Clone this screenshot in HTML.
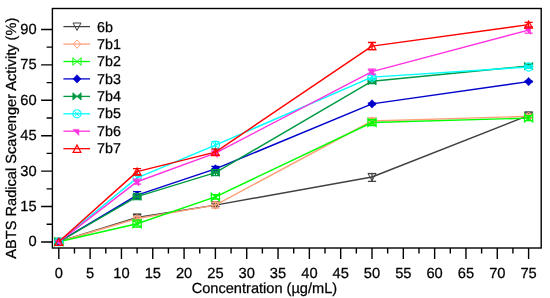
<!DOCTYPE html>
<html><head><meta charset="utf-8"><title>chart</title>
<style>
html,body{margin:0;padding:0;background:#fff;}
body{width:550px;height:298px;overflow:hidden;font-family:"Liberation Sans",sans-serif;}
#w{will-change:transform;width:550px;height:298px;}
svg{display:block;}
text{font-family:"Liberation Sans",sans-serif;font-size:14.7px;fill:#000;stroke:#000;stroke-width:0.25px;text-rendering:geometricPrecision;}
</style></head><body>
<div id="w"><svg width="550" height="298" viewBox="0 0 550 298">
<rect x="0" y="0" width="550" height="298" fill="#fff"/>

<g><polyline points="58.8,241.8 137.1,217.5 215.4,205.1 372.0,177.0 528.6,115.4" fill="none" stroke="#404040" stroke-width="1.45" stroke-linejoin="round"/>
<path d="M54.8,238.2 L62.8,238.2 L58.8,245.6 Z" fill="none" stroke="#404040" stroke-width="1"/>
<path d="M137.1,214.7 V220.3 M133.0,214.7 H141.2 M133.0,220.3 H141.2" stroke="#404040" stroke-width="1.3" fill="none"/>
<path d="M133.1,213.9 L141.1,213.9 L137.1,221.3 Z" fill="none" stroke="#404040" stroke-width="1"/>
<path d="M215.4,203.6 V206.6 M211.3,203.6 H219.5 M211.3,206.6 H219.5" stroke="#404040" stroke-width="1.3" fill="none"/>
<path d="M211.4,201.5 L219.4,201.5 L215.4,208.9 Z" fill="none" stroke="#404040" stroke-width="1"/>
<path d="M372.0,173.6 V181.3 M367.9,173.6 H376.1 M367.9,181.3 H376.1" stroke="#404040" stroke-width="1.3" fill="none"/>
<path d="M368.0,173.4 L376.0,173.4 L372.0,180.8 Z" fill="none" stroke="#404040" stroke-width="1"/>
<path d="M528.6,112.9 V117.9 M524.5,112.9 H532.7 M524.5,117.9 H532.7" stroke="#404040" stroke-width="1.3" fill="none"/>
<path d="M524.6,111.8 L532.6,111.8 L528.6,119.2 Z" fill="none" stroke="#404040" stroke-width="1"/>
</g>
<g><polyline points="58.8,241.8 137.1,218.5 215.4,205.1 372.0,121.0 528.6,116.3" fill="none" stroke="#FFA07A" stroke-width="1.45" stroke-linejoin="round"/>
<path d="M55.1,241.8 L58.8,237.6 L62.5,241.8 L58.8,246.0 Z" fill="none" stroke="#FFA07A" stroke-width="1"/>
<path d="M137.1,216.5 V220.5 M133.0,216.5 H141.2 M133.0,220.5 H141.2" stroke="#FFA07A" stroke-width="1.3" fill="none"/>
<path d="M133.4,218.5 L137.1,214.3 L140.8,218.5 L137.1,222.7 Z" fill="none" stroke="#FFA07A" stroke-width="1"/>
<path d="M215.4,202.1 V208.1 M211.3,202.1 H219.5 M211.3,208.1 H219.5" stroke="#FFA07A" stroke-width="1.3" fill="none"/>
<path d="M211.7,205.1 L215.4,200.9 L219.1,205.1 L215.4,209.3 Z" fill="none" stroke="#FFA07A" stroke-width="1"/>
<path d="M372.0,118.0 V124.0 M367.9,118.0 H376.1 M367.9,124.0 H376.1" stroke="#FFA07A" stroke-width="1.3" fill="none"/>
<path d="M368.3,121.0 L372.0,116.8 L375.7,121.0 L372.0,125.2 Z" fill="none" stroke="#FFA07A" stroke-width="1"/>
<path d="M528.6,114.3 V118.3 M524.5,114.3 H532.7 M524.5,118.3 H532.7" stroke="#FFA07A" stroke-width="1.3" fill="none"/>
<path d="M524.9,116.3 L528.6,112.1 L532.3,116.3 L528.6,120.5 Z" fill="none" stroke="#FFA07A" stroke-width="1"/>
</g>
<g><polyline points="58.8,241.8 137.1,223.7 215.4,196.9 372.0,122.5 528.6,118.1" fill="none" stroke="#00FF00" stroke-width="1.45" stroke-linejoin="round"/>
<path d="M54.7,238.0 L58.8,241.8 L54.7,245.6 Z M62.9,238.0 L58.8,241.8 L62.9,245.6 Z" fill="none" stroke="#00FF00" stroke-width="1.25"/>
<path d="M137.1,220.2 V227.2 M133.0,220.2 H141.2 M133.0,227.2 H141.2" stroke="#00FF00" stroke-width="1.3" fill="none"/>
<path d="M133.0,219.9 L137.1,223.7 L133.0,227.5 Z M141.2,219.9 L137.1,223.7 L141.2,227.5 Z" fill="none" stroke="#00FF00" stroke-width="1.25"/>
<path d="M215.4,194.7 V199.1 M211.3,194.7 H219.5 M211.3,199.1 H219.5" stroke="#00FF00" stroke-width="1.3" fill="none"/>
<path d="M211.3,193.1 L215.4,196.9 L211.3,200.7 Z M219.5,193.1 L215.4,196.9 L219.5,200.7 Z" fill="none" stroke="#00FF00" stroke-width="1.25"/>
<path d="M372.0,119.5 V125.5 M367.9,119.5 H376.1 M367.9,125.5 H376.1" stroke="#00FF00" stroke-width="1.3" fill="none"/>
<path d="M367.9,118.7 L372.0,122.5 L367.9,126.3 Z M376.1,118.7 L372.0,122.5 L376.1,126.3 Z" fill="none" stroke="#00FF00" stroke-width="1.25"/>
<path d="M528.6,115.6 V120.6 M524.5,115.6 H532.7 M524.5,120.6 H532.7" stroke="#00FF00" stroke-width="1.3" fill="none"/>
<path d="M524.5,114.3 L528.6,118.1 L524.5,121.9 Z M532.7,114.3 L528.6,118.1 L532.7,121.9 Z" fill="none" stroke="#00FF00" stroke-width="1.25"/>
</g>
<g><polyline points="58.8,241.8 137.1,195.1 215.4,168.9 372.0,103.9 528.6,81.6" fill="none" stroke="#0000CD" stroke-width="1.45" stroke-linejoin="round"/>
<path d="M54.8,241.8 L58.8,237.6 L62.8,241.8 L58.8,246.0 Z" fill="#0000CD" stroke="#0000CD" stroke-width="0.6"/>
<path d="M137.1,191.6 V198.6 M133.0,191.6 H141.2 M133.0,198.6 H141.2" stroke="#0000CD" stroke-width="1.3" fill="none"/>
<path d="M133.1,195.1 L137.1,190.9 L141.1,195.1 L137.1,199.3 Z" fill="#0000CD" stroke="#0000CD" stroke-width="0.6"/>
<path d="M215.4,166.4 V171.4 M211.3,166.4 H219.5 M211.3,171.4 H219.5" stroke="#0000CD" stroke-width="1.3" fill="none"/>
<path d="M211.4,168.9 L215.4,164.7 L219.4,168.9 L215.4,173.1 Z" fill="#0000CD" stroke="#0000CD" stroke-width="0.6"/>
<path d="M372.0,103.1 V104.7 M367.9,103.1 H376.1 M367.9,104.7 H376.1" stroke="#0000CD" stroke-width="1.3" fill="none"/>
<path d="M368.0,103.9 L372.0,99.7 L376.0,103.9 L372.0,108.1 Z" fill="#0000CD" stroke="#0000CD" stroke-width="0.6"/>
<path d="M528.6,81.1 V82.1 M524.5,81.1 H532.7 M524.5,82.1 H532.7" stroke="#0000CD" stroke-width="1.3" fill="none"/>
<path d="M524.6,81.6 L528.6,77.4 L532.6,81.6 L528.6,85.8 Z" fill="#0000CD" stroke="#0000CD" stroke-width="0.6"/>
</g>
<g><polyline points="58.8,241.8 137.1,196.6 215.4,172.6 372.0,81.2 528.6,66.0" fill="none" stroke="#009944" stroke-width="1.45" stroke-linejoin="round"/>
<path d="M54.7,238.1 L58.8,241.8 L54.7,245.5 Z M62.9,238.1 L58.8,241.8 L62.9,245.5 Z" fill="#009944" stroke="#009944" stroke-width="0.8"/>
<path d="M137.1,193.6 V199.6 M133.0,193.6 H141.2 M133.0,199.6 H141.2" stroke="#009944" stroke-width="1.3" fill="none"/>
<path d="M133.0,192.9 L137.1,196.6 L133.0,200.3 Z M141.2,192.9 L137.1,196.6 L141.2,200.3 Z" fill="#009944" stroke="#009944" stroke-width="0.8"/>
<path d="M215.4,169.6 V175.6 M211.3,169.6 H219.5 M211.3,175.6 H219.5" stroke="#009944" stroke-width="1.3" fill="none"/>
<path d="M211.3,168.9 L215.4,172.6 L211.3,176.3 Z M219.5,168.9 L215.4,172.6 L219.5,176.3 Z" fill="#009944" stroke="#009944" stroke-width="0.8"/>
<path d="M372.0,78.7 V83.7 M367.9,78.7 H376.1 M367.9,83.7 H376.1" stroke="#009944" stroke-width="1.3" fill="none"/>
<path d="M367.9,77.5 L372.0,81.2 L367.9,84.9 Z M376.1,77.5 L372.0,81.2 L376.1,84.9 Z" fill="#009944" stroke="#009944" stroke-width="0.8"/>
<path d="M528.6,64.0 V68.0 M524.5,64.0 H532.7 M524.5,68.0 H532.7" stroke="#009944" stroke-width="1.3" fill="none"/>
<path d="M524.5,62.3 L528.6,66.0 L524.5,69.7 Z M532.7,62.3 L528.6,66.0 L532.7,69.7 Z" fill="#009944" stroke="#009944" stroke-width="0.8"/>
</g>
<g><polyline points="58.8,241.8 137.1,177.9 215.4,145.1 372.0,77.1 528.6,67.0" fill="none" stroke="#00FFFF" stroke-width="1.45" stroke-linejoin="round"/>
<circle cx="58.8" cy="241.8" r="4.1" fill="none" stroke="#00FFFF" stroke-width="1.15"/><path d="M56.3,239.3 L61.3,244.3 M56.3,244.3 L61.3,239.3" fill="none" stroke="#00FFFF" stroke-width="1"/>
<path d="M137.1,175.4 V180.4 M133.0,175.4 H141.2 M133.0,180.4 H141.2" stroke="#00FFFF" stroke-width="1.3" fill="none"/>
<circle cx="137.1" cy="177.9" r="4.1" fill="none" stroke="#00FFFF" stroke-width="1.15"/><path d="M134.6,175.4 L139.6,180.4 M134.6,180.4 L139.6,175.4" fill="none" stroke="#00FFFF" stroke-width="1"/>
<path d="M215.4,141.6 V148.6 M211.3,141.6 H219.5 M211.3,148.6 H219.5" stroke="#00FFFF" stroke-width="1.3" fill="none"/>
<circle cx="215.4" cy="145.1" r="4.1" fill="none" stroke="#00FFFF" stroke-width="1.15"/><path d="M212.9,142.6 L217.9,147.6 M212.9,147.6 L217.9,142.6" fill="none" stroke="#00FFFF" stroke-width="1"/>
<path d="M372.0,75.1 V79.1 M367.9,75.1 H376.1 M367.9,79.1 H376.1" stroke="#00FFFF" stroke-width="1.3" fill="none"/>
<circle cx="372.0" cy="77.1" r="4.1" fill="none" stroke="#00FFFF" stroke-width="1.15"/><path d="M369.5,74.6 L374.5,79.6 M369.5,79.6 L374.5,74.6" fill="none" stroke="#00FFFF" stroke-width="1"/>
<path d="M528.6,66.0 V68.0 M524.5,66.0 H532.7 M524.5,68.0 H532.7" stroke="#00FFFF" stroke-width="1.3" fill="none"/>
<circle cx="528.6" cy="67.0" r="4.1" fill="none" stroke="#00FFFF" stroke-width="1.15"/><path d="M526.1,64.5 L531.1,69.5 M526.1,69.5 L531.1,64.5" fill="none" stroke="#00FFFF" stroke-width="1"/>
</g>
<g><polyline points="58.8,241.8 137.1,181.7 215.4,153.1 372.0,71.6 528.6,30.1" fill="none" stroke="#FF33E0" stroke-width="1.45" stroke-linejoin="round"/>
<path d="M54.7,240.0 L60.7,240.0 L60.7,246.2 Z" fill="#FF33E0" stroke="#FF33E0" stroke-width="0.5"/>
<path d="M137.1,179.2 V184.2 M133.0,179.2 H141.2 M133.0,184.2 H141.2" stroke="#FF33E0" stroke-width="1.3" fill="none"/>
<path d="M133.0,179.9 L139.0,179.9 L139.0,186.1 Z" fill="#FF33E0" stroke="#FF33E0" stroke-width="0.5"/>
<path d="M215.4,151.1 V155.1 M211.3,151.1 H219.5 M211.3,155.1 H219.5" stroke="#FF33E0" stroke-width="1.3" fill="none"/>
<path d="M211.3,151.3 L217.3,151.3 L217.3,157.5 Z" fill="#FF33E0" stroke="#FF33E0" stroke-width="0.5"/>
<path d="M372.0,69.1 V74.1 M367.9,69.1 H376.1 M367.9,74.1 H376.1" stroke="#FF33E0" stroke-width="1.3" fill="none"/>
<path d="M367.9,69.8 L373.9,69.8 L373.9,76.0 Z" fill="#FF33E0" stroke="#FF33E0" stroke-width="0.5"/>
<path d="M528.6,27.1 V33.1 M524.5,27.1 H532.7 M524.5,33.1 H532.7" stroke="#FF33E0" stroke-width="1.3" fill="none"/>
<path d="M524.5,28.3 L530.5,28.3 L530.5,34.5 Z" fill="#FF33E0" stroke="#FF33E0" stroke-width="0.5"/>
</g>
<g><polyline points="58.8,241.8 137.1,171.6 215.4,152.1 372.0,46.1 528.6,24.6" fill="none" stroke="#FF0000" stroke-width="1.45" stroke-linejoin="round"/>
<path d="M54.9,245.4 L62.7,245.4 L58.8,238.2 Z" fill="none" stroke="#FF0000" stroke-width="1.2"/>
<path d="M137.1,168.6 V174.6 M133.0,168.6 H141.2 M133.0,174.6 H141.2" stroke="#FF0000" stroke-width="1.3" fill="none"/>
<path d="M133.2,175.2 L141.0,175.2 L137.1,168.0 Z" fill="none" stroke="#FF0000" stroke-width="1.2"/>
<path d="M215.4,149.1 V155.1 M211.3,149.1 H219.5 M211.3,155.1 H219.5" stroke="#FF0000" stroke-width="1.3" fill="none"/>
<path d="M211.5,155.7 L219.3,155.7 L215.4,148.5 Z" fill="none" stroke="#FF0000" stroke-width="1.2"/>
<path d="M372.0,42.5 V49.7 M367.9,42.5 H376.1 M367.9,49.7 H376.1" stroke="#FF0000" stroke-width="1.3" fill="none"/>
<path d="M368.1,49.7 L375.9,49.7 L372.0,42.5 Z" fill="none" stroke="#FF0000" stroke-width="1.2"/>
<path d="M528.6,22.4 V26.8 M524.5,22.4 H532.7 M524.5,26.8 H532.7" stroke="#FF0000" stroke-width="1.3" fill="none"/>
<path d="M524.7,28.2 L532.5,28.2 L528.6,21.0 Z" fill="none" stroke="#FF0000" stroke-width="1.2"/>
</g>
<rect x="52.4" y="8.5" width="488.8" height="239.5" fill="none" stroke="#000" stroke-width="1.4"/>
<path d="M58.80,248 V259 M74.46,248 V253.6 M90.12,248 V259 M105.78,248 V253.6 M121.44,248 V259 M137.10,248 V253.6 M152.76,248 V259 M168.42,248 V253.6 M184.08,248 V259 M199.74,248 V253.6 M215.40,248 V259 M231.06,248 V253.6 M246.72,248 V259 M262.38,248 V253.6 M278.04,248 V259 M293.70,248 V253.6 M309.36,248 V259 M325.02,248 V253.6 M340.68,248 V259 M356.34,248 V253.6 M372.00,248 V259 M387.66,248 V253.6 M403.32,248 V259 M418.98,248 V253.6 M434.64,248 V259 M450.30,248 V253.6 M465.96,248 V259 M481.62,248 V253.6 M497.28,248 V259 M512.94,248 V253.6 M528.60,248 V259 M52.4,241.95 H41.1 M52.4,224.24 H46.6 M52.4,206.53 H41.1 M52.4,188.83 H46.6 M52.4,171.12 H41.1 M52.4,153.41 H46.6 M52.4,135.70 H41.1 M52.4,118.00 H46.6 M52.4,100.29 H41.1 M52.4,82.58 H46.6 M52.4,64.87 H41.1 M52.4,47.17 H46.6 M52.4,29.46 H41.1" stroke="#000" stroke-width="1.4" fill="none"/>
<text x="58.8" y="277.7" text-anchor="middle">0</text>
<text x="90.1" y="277.7" text-anchor="middle">5</text>
<text x="121.4" y="277.7" text-anchor="middle">10</text>
<text x="152.8" y="277.7" text-anchor="middle">15</text>
<text x="184.1" y="277.7" text-anchor="middle">20</text>
<text x="215.4" y="277.7" text-anchor="middle">25</text>
<text x="246.7" y="277.7" text-anchor="middle">30</text>
<text x="278.0" y="277.7" text-anchor="middle">35</text>
<text x="309.4" y="277.7" text-anchor="middle">40</text>
<text x="340.7" y="277.7" text-anchor="middle">45</text>
<text x="372.0" y="277.7" text-anchor="middle">50</text>
<text x="403.3" y="277.7" text-anchor="middle">55</text>
<text x="434.6" y="277.7" text-anchor="middle">60</text>
<text x="466.0" y="277.7" text-anchor="middle">65</text>
<text x="497.3" y="277.7" text-anchor="middle">70</text>
<text x="528.6" y="277.7" text-anchor="middle">75</text>
<text x="36.6" y="246.4" text-anchor="end">0</text>
<text x="36.6" y="211.0" text-anchor="end">15</text>
<text x="36.6" y="175.6" text-anchor="end">30</text>
<text x="36.6" y="140.2" text-anchor="end">45</text>
<text x="36.6" y="104.8" text-anchor="end">60</text>
<text x="36.6" y="69.4" text-anchor="end">75</text>
<text x="36.6" y="34.0" text-anchor="end">90</text>
<text x="191.7" y="292.7" text-anchor="start" style="font-size:14.6px">Concentration (µg/mL)</text>
<text transform="translate(16.0,138.2) rotate(-90)" text-anchor="middle" style="font-size:14.6px">ABTS Radical Scavenger Activity (%)</text>
<path d="M63.4,26.6 H90" stroke="#404040" stroke-width="1.3"/>
<path d="M73.0,23.0 L81.0,23.0 L77.0,30.4 Z" fill="none" stroke="#404040" stroke-width="1"/>
<text x="97.0" y="31.5" style="font-size:14.3px">6b</text>
<path d="M63.4,44.1 H90" stroke="#FFA07A" stroke-width="1.3"/>
<path d="M73.3,44.1 L77.0,39.9 L80.7,44.1 L77.0,48.3 Z" fill="none" stroke="#FFA07A" stroke-width="1"/>
<text x="97.0" y="48.9" style="font-size:14.3px">7b1</text>
<path d="M63.4,61.5 H90" stroke="#00FF00" stroke-width="1.3"/>
<path d="M72.9,57.7 L77.0,61.5 L72.9,65.3 Z M81.1,57.7 L77.0,61.5 L81.1,65.3 Z" fill="none" stroke="#00FF00" stroke-width="1.0"/>
<text x="97.0" y="66.2" style="font-size:14.3px">7b2</text>
<path d="M63.4,78.9 H90" stroke="#0000CD" stroke-width="1.3"/>
<path d="M73.0,78.9 L77.0,74.7 L81.0,78.9 L77.0,83.1 Z" fill="#0000CD" stroke="#0000CD" stroke-width="0.6"/>
<text x="97.0" y="83.6" style="font-size:14.3px">7b3</text>
<path d="M63.4,96.4 H90" stroke="#009944" stroke-width="1.3"/>
<path d="M72.9,92.7 L77.0,96.4 L72.9,100.1 Z M81.1,92.7 L77.0,96.4 L81.1,100.1 Z" fill="#009944" stroke="#009944" stroke-width="0.8"/>
<text x="97.0" y="100.9" style="font-size:14.3px">7b4</text>
<path d="M63.4,113.8 H90" stroke="#00FFFF" stroke-width="1.3"/>
<circle cx="77.0" cy="113.8" r="4.1" fill="none" stroke="#00FFFF" stroke-width="1.15"/><path d="M74.5,111.3 L79.5,116.3 M74.5,116.3 L79.5,111.3" fill="none" stroke="#00FFFF" stroke-width="1"/>
<text x="97.0" y="118.3" style="font-size:14.3px">7b5</text>
<path d="M63.4,131.2 H90" stroke="#FF33E0" stroke-width="1.3"/>
<path d="M72.9,129.4 L78.9,129.4 L78.9,135.6 Z" fill="#FF33E0" stroke="#FF33E0" stroke-width="0.5"/>
<text x="97.0" y="135.7" style="font-size:14.3px">7b6</text>
<path d="M63.4,148.7 H90" stroke="#FF0000" stroke-width="1.3"/>
<path d="M73.1,152.3 L80.9,152.3 L77.0,145.1 Z" fill="none" stroke="#FF0000" stroke-width="1.2"/>
<text x="97.0" y="153.0" style="font-size:14.3px">7b7</text>
</svg></div></body></html>
